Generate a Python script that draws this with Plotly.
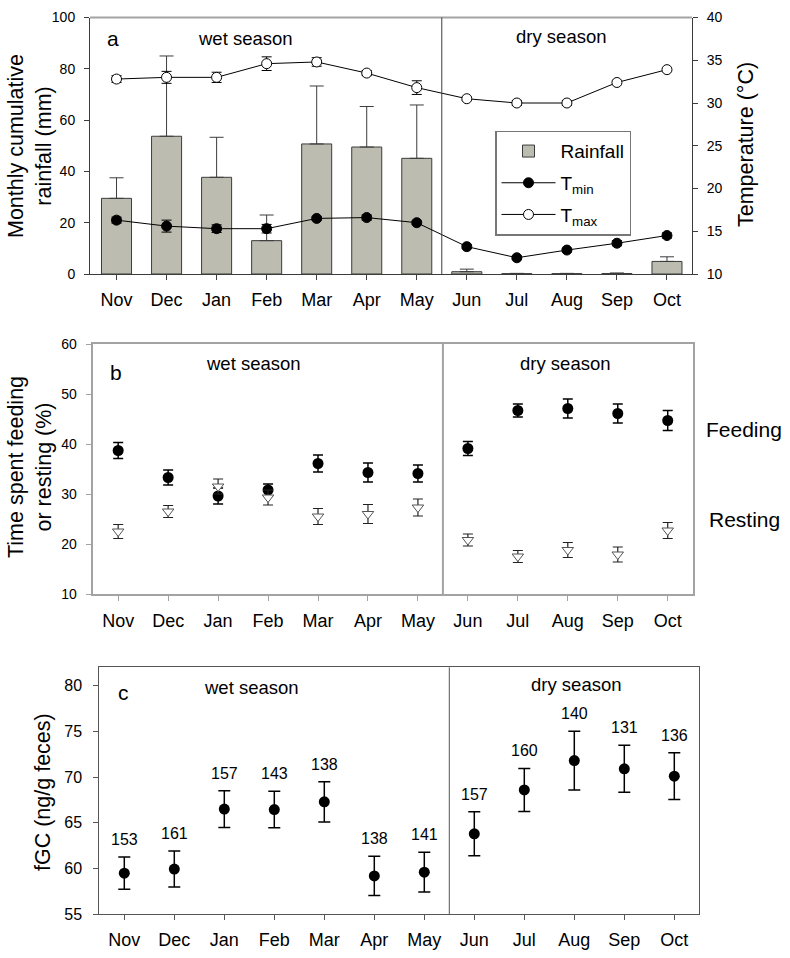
import plotly.graph_objects as go

# ---------------- data ----------------
months = ["Nov", "Dec", "Jan", "Feb", "Mar", "Apr", "May", "Jun", "Jul", "Aug", "Sep", "Oct"]

rain = [29.5, 53.7, 37.7, 13.0, 50.7, 49.5, 45.1, 0.9, 0.15, 0.15, 0.2, 4.9]
rain_err = [8.0, 31.3, 15.6, 10.0, 22.6, 15.8, 20.8, 1.0, 0.1, 0.1, 0.2, 1.8]

tmin = [16.3, 15.6, 15.3, 15.3, 16.5, 16.6, 16.0, 13.2, 11.9, 12.8, 13.6, 14.5]
tmin_err = [0.35, 0.7, 0.45, 0.5, 0.2, 0.3, 0.2, 0.2, 0.2, 0.2, 0.3, 0.3]
tmax = [32.8, 33.0, 33.0, 34.6, 34.8, 33.5, 31.8, 30.5, 30.0, 30.0, 32.4, 33.9]
tmax_err = [0.4, 0.7, 0.6, 0.8, 0.5, 0.3, 0.8, 0.2, 0.3, 0.3, 0.2, 0.2]

feeding = [38.7, 33.3, 29.6, 30.8, 36.1, 34.3, 34.1, 39.1, 46.7, 47.1, 46.1, 44.7]
feeding_err = [1.6, 1.5, 1.6, 1.2, 1.7, 1.9, 1.7, 1.4, 1.3, 1.9, 1.9, 2.0]
resting = [22.5, 26.5, 31.5, 29.3, 25.5, 26.0, 27.3, 20.8, 17.5, 18.8, 17.9, 22.7]
resting_err = [1.4, 1.2, 1.5, 1.5, 1.6, 1.9, 1.7, 1.2, 1.2, 1.5, 1.5, 1.6]

fgc = [59.5, 59.95, 66.5, 66.45, 67.3, 59.2, 59.6, 63.8, 68.6, 71.8, 70.9, 70.1]
fgc_err = [1.75, 1.97, 2.0, 2.0, 2.2, 2.15, 2.17, 2.4, 2.35, 3.2, 2.57, 2.55]
fgc_n = [153, 161, 157, 143, 138, 138, 141, 157, 160, 140, 131, 136]

W, H = 790, 958
FONT = "Arial, Liberation Sans, sans-serif"
DARK = "#3c3c3c"
GRAY = "#a3a3a3"


def px(x):
    return x / W


def py(y):
    return 1 - y / H


fig = go.Figure()

# ---------------- panel a ----------------
fig.add_trace(go.Bar(
    x=months, y=rain, name="Rainfall", width=0.6, legendgroup="g1",
    marker=dict(color="#bcbcb0", line=dict(color=DARK, width=1)),
    error_y=dict(type="data", array=rain_err, symmetric=False,
                 arrayminus=[0] * len(rain), color=DARK, thickness=1, width=7),
    xaxis="x", yaxis="y", showlegend=True,
))
fig.add_trace(go.Scatter(
    x=months, y=tmin, name="T<sub>min</sub>", mode="lines+markers", legendgroup="g2",
    line=dict(color="black", width=1),
    marker=dict(symbol="circle", size=10, color="black", line=dict(color="black", width=1)),
    error_y=dict(type="data", array=tmin_err, color="black", thickness=1, width=5),
    xaxis="x", yaxis="y2",
))
fig.add_trace(go.Scatter(
    x=months, y=tmax, name="T<sub>max</sub>", mode="lines+markers", legendgroup="g3",
    line=dict(color="black", width=1),
    marker=dict(symbol="circle", size=10, color="white", line=dict(color="black", width=1)),
    error_y=dict(type="data", array=tmax_err, color="black", thickness=1, width=5),
    xaxis="x", yaxis="y2",
))

# ---------------- panel b ----------------
fig.add_trace(go.Scatter(
    x=months, y=feeding, mode="markers", name="Feeding", showlegend=False,
    marker=dict(symbol="circle", size=11, color="black"),
    error_y=dict(type="data", array=feeding_err, color="black", thickness=1.5, width=5),
    xaxis="x2", yaxis="y3",
))
fig.add_trace(go.Scatter(
    x=months, y=resting, mode="markers", name="Resting", showlegend=False,
    marker=dict(symbol="triangle-down", size=10, color="white", line=dict(color="#555555", width=1)),
    error_y=dict(type="data", array=resting_err, color="#222222", thickness=1.2, width=5),
    xaxis="x2", yaxis="y3",
))

# ---------------- panel c ----------------
fig.add_trace(go.Scatter(
    x=months, y=fgc, mode="markers", name="fGC", showlegend=False,
    marker=dict(symbol="circle", size=11, color="black"),
    error_y=dict(type="data", array=fgc_err, color="black", thickness=1.5, width=6),
    xaxis="x3", yaxis="y4",
))

tickfont = dict(family=FONT, size=14, color="black")
monthfont = dict(family=FONT, size=18, color="black")

common_x = dict(type="category", tickmode="array", tickvals=months, ticktext=months,
                ticks="outside", ticklen=5, showgrid=False, zeroline=False,
                tickfont=monthfont, ticklabelstandoff=4, automargin=False)

fig.update_layout(
    width=W, height=H, autosize=False,
    margin=dict(l=0, r=0, t=0, b=0, pad=0, autoexpand=False),
    paper_bgcolor="white", plot_bgcolor="white",
    font=dict(family=FONT, color="black"),
    bargap=0.4,
    # panel a
    xaxis=dict(common_x, domain=[px(90), px(692)], anchor="y", range=[-0.53, 11.5],
               showline=True, linecolor=DARK, linewidth=1, tickcolor=DARK),
    yaxis=dict(domain=[py(274), py(17.5)], anchor="x", range=[0, 100], automargin=False,
               tickvals=[0, 20, 40, 60, 80, 100], ticks="outside", ticklen=5,
               showline=True, linecolor=DARK, linewidth=1, tickcolor=DARK,
               showgrid=False, zeroline=False, tickfont=tickfont, ticklabelstandoff=6),
    yaxis2=dict(overlaying="y", side="right", anchor="x", range=[10, 40], automargin=False,
                tickvals=[10, 15, 20, 25, 30, 35, 40], ticks="outside", ticklen=5,
                showline=True, linecolor=DARK, linewidth=1, tickcolor=DARK,
                showgrid=False, zeroline=False, tickfont=tickfont, ticklabelstandoff=6),
    # panel b
    xaxis2=dict(common_x, domain=[px(92.7), px(692.7)], anchor="y3", range=[-0.51, 11.5],
                showline=True, mirror=True, linecolor=GRAY, linewidth=2, tickcolor=GRAY),
    yaxis3=dict(domain=[py(594), py(344)], anchor="x2", range=[10, 60], automargin=False,
                tickvals=[10, 20, 30, 40, 50, 60], ticks="outside", ticklen=5,
                showline=True, mirror=True, linecolor=GRAY, linewidth=2, tickcolor=GRAY,
                showgrid=False, zeroline=False, tickfont=tickfont, ticklabelstandoff=6),
    # panel c
    xaxis3=dict(common_x, domain=[px(99.3), px(699.3)], anchor="y4", range=[-0.5, 11.5],
                showline=True, mirror=True, linecolor="#555555", linewidth=1, tickcolor="#555555"),
    yaxis4=dict(domain=[py(914.3), py(667.3)], anchor="x3", range=[55, 82], automargin=False,
                tickvals=[55, 60, 65, 70, 75, 80], ticks="outside", ticklen=5,
                showline=True, mirror=True, linecolor="#555555", linewidth=1, tickcolor="#555555",
                showgrid=False, zeroline=False, tickfont=dict(family=FONT, size=16, color="black"),
                ticklabelstandoff=8),
    legend=dict(x=px(495), y=py(130.7), xanchor="left", yanchor="top",
                bgcolor="white", bordercolor="#777777", borderwidth=1.5,
                font=dict(family=FONT, size=19, color="black"),
                itemwidth=54, tracegroupgap=4, traceorder="grouped"),
)

# ---------------- decorations ----------------
shapes = [
    # top border of panel a (light gray)
    dict(type="line", xref="x domain", yref="y domain", x0=0, x1=1, y0=1, y1=1,
         line=dict(color=GRAY, width=2)),
    # season dividers
    dict(type="line", xref="x", yref="y domain", x0=6.5, x1=6.5, y0=0, y1=1,
         line=dict(color=DARK, width=1)),
    dict(type="line", xref="x2", yref="y3 domain", x0=6.5, x1=6.5, y0=0, y1=1,
         line=dict(color=GRAY, width=2)),
    dict(type="line", xref="x3", yref="y4 domain", x0=6.5, x1=6.5, y0=0, y1=1,
         line=dict(color="#555555", width=1)),
]
fig.update_layout(shapes=shapes)

ann = []


def text(x, y, s, size, angle=0):
    ann.append(dict(x=px(x), y=py(y), xref="paper", yref="paper", text=s,
                    showarrow=False, xanchor="center", yanchor="middle",
                    textangle=angle, font=dict(family=FONT, size=size, color="black")))


# panel labels & season labels
text(112.5, 38, "a", 21)
text(245, 38, "wet season", 18.5)
text(561.7, 36, "dry season", 18.5)
text(116, 372, "b", 21)
text(253, 363, "wet season", 18.5)
text(565.5, 363, "dry season", 18.5)
text(123.3, 692, "c", 21)
text(252, 687, "wet season", 18.5)
text(576, 684, "dry season", 18.5)
text(743.5, 430, "Feeding", 21)
text(744, 519, "Resting", 21)

# axis titles
text(30, 146, "Monthly cumulative<br>rainfall (mm)", 21.5, -90)
text(746, 145, "Temperature (°C)", 21.5, -90)
text(30, 467, "Time spent feeding<br>or resting (%)", 21.5, -90)
text(43, 792, "fGC (ng/g feces)", 21.5, -90)

# sample sizes above error bars in panel c
for m, v, e, n in zip(months, fgc, fgc_err, fgc_n):
    ann.append(dict(x=m, y=v + e, xref="x3", yref="y4", text=str(n), showarrow=False,
                    xanchor="center", yanchor="bottom", yshift=7,
                    font=dict(family=FONT, size=16, color="black")))

fig.update_layout(annotations=ann)

fig.write_html("out.html", config={"displayModeBar": False},
               post_script="document.body.style.margin='0px';")
